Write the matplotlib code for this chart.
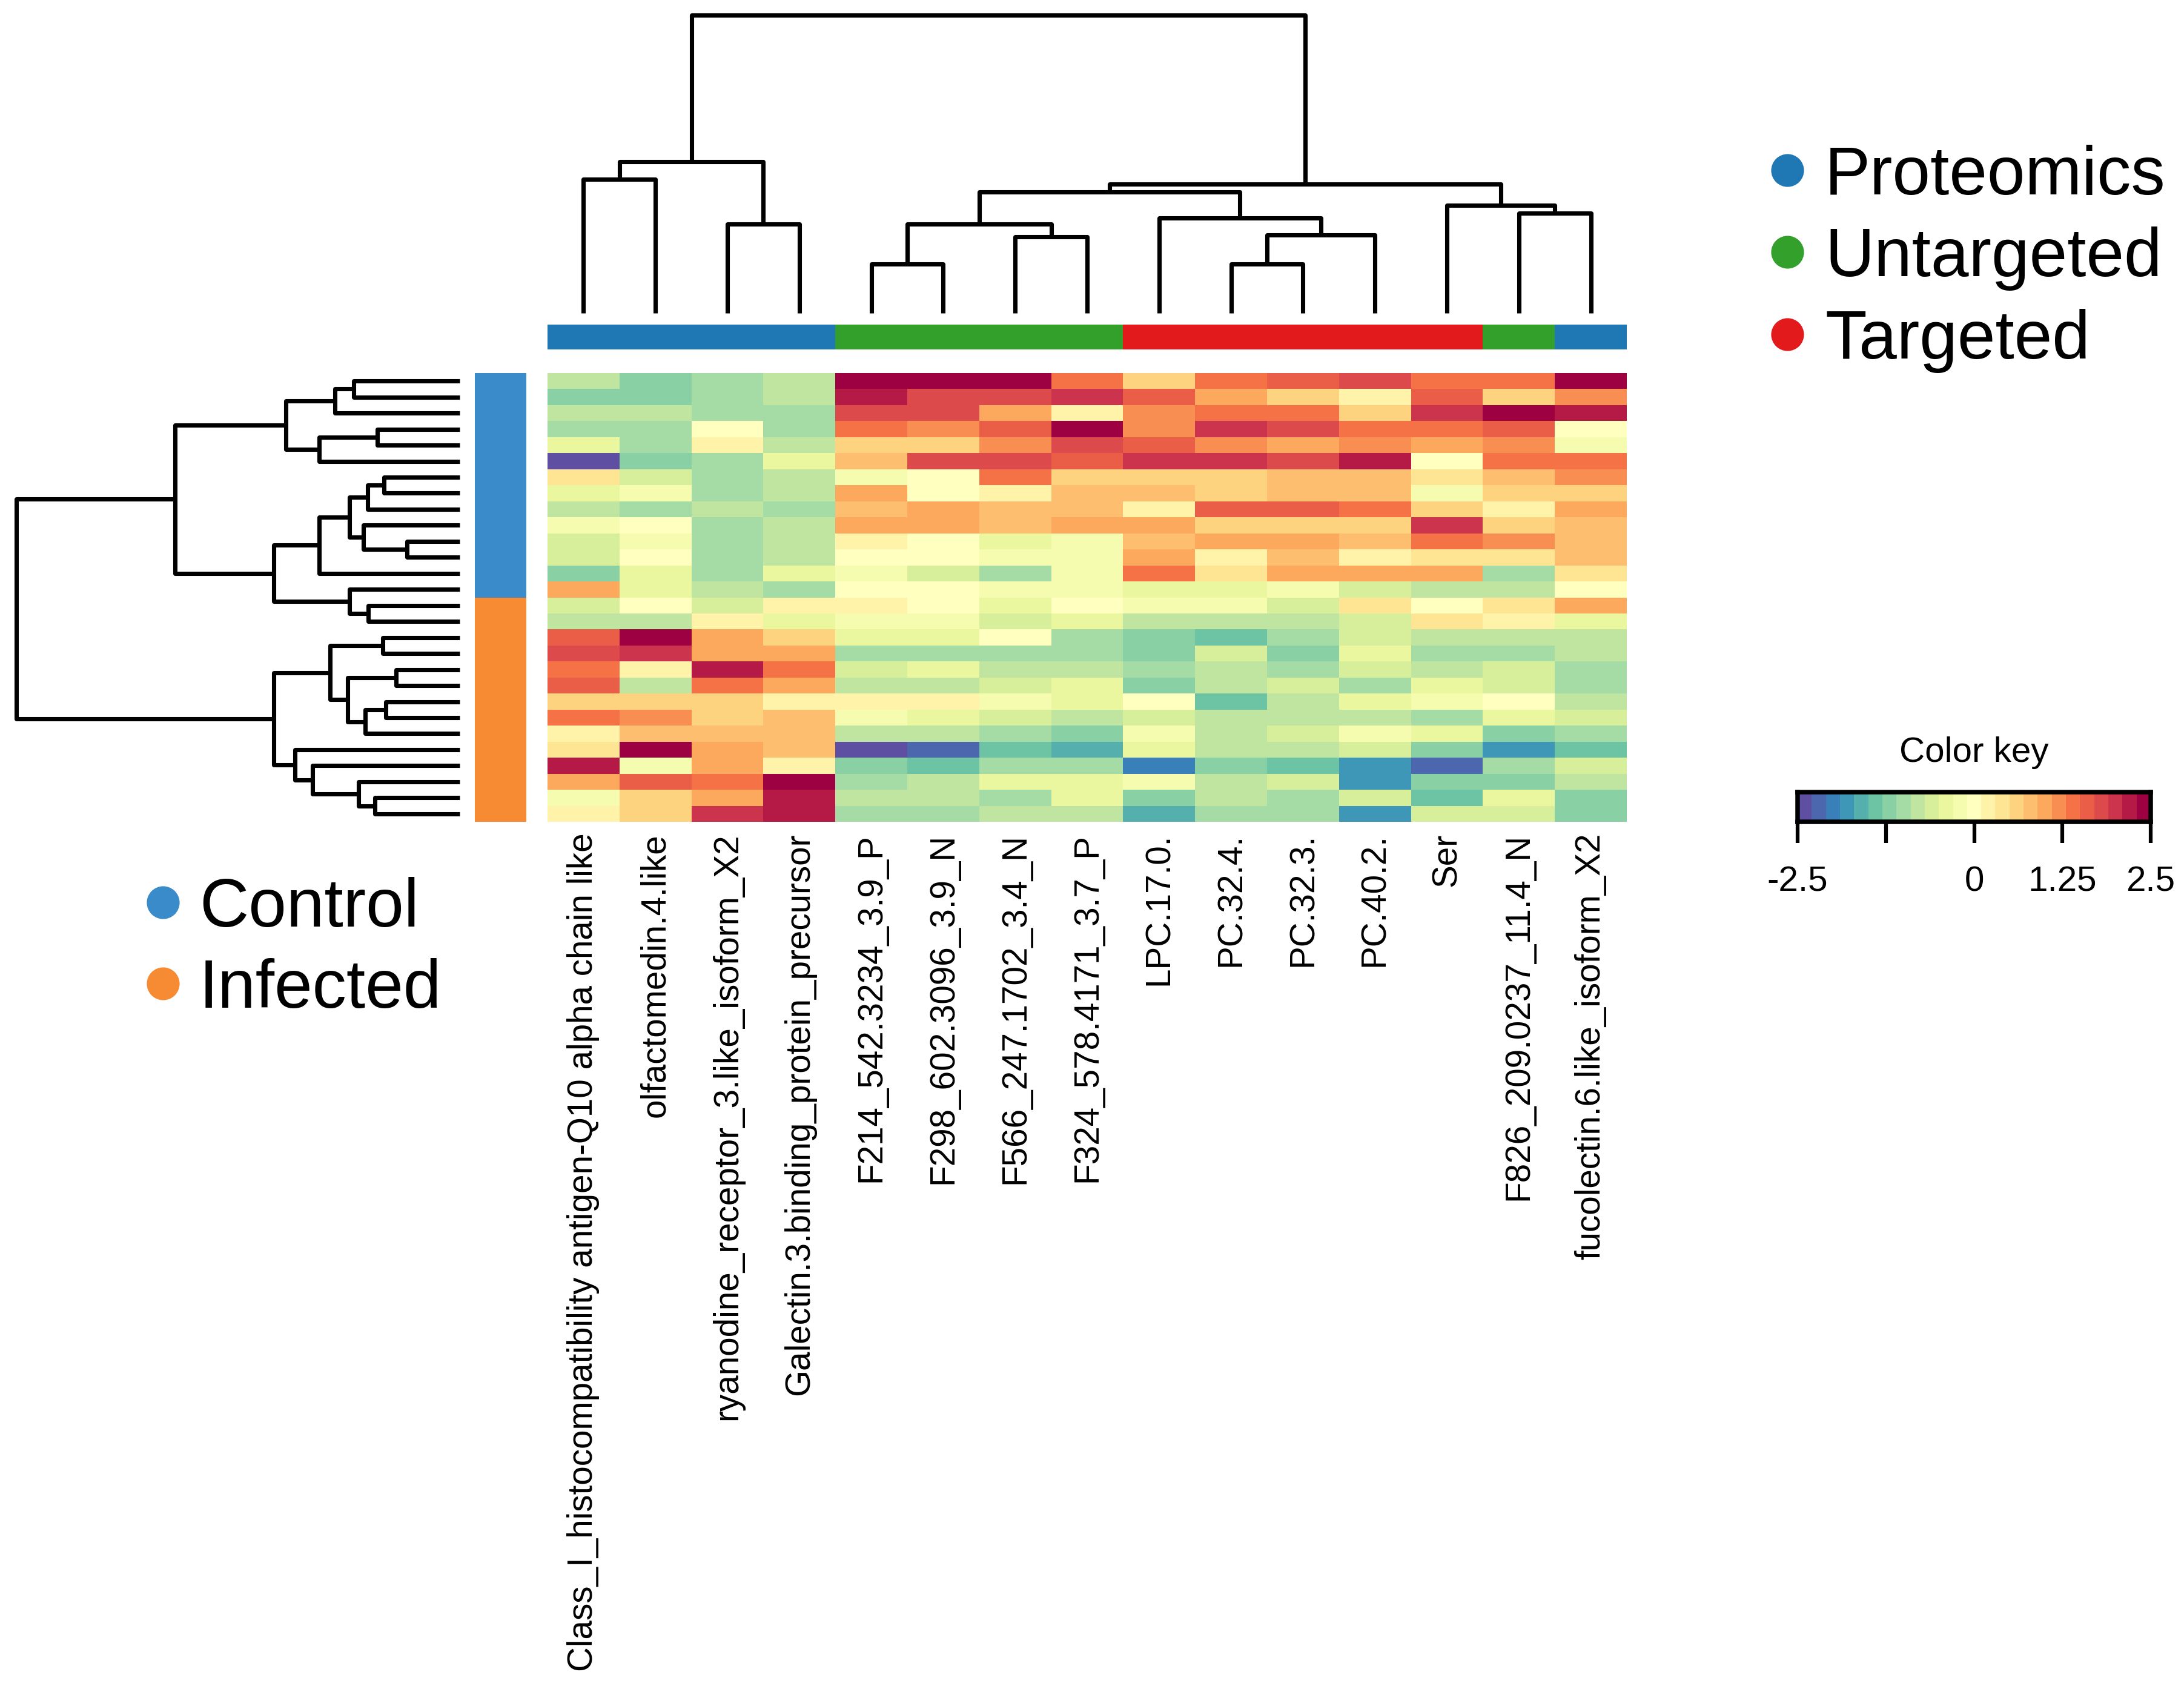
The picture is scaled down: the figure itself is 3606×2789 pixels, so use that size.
import matplotlib
matplotlib.use("Agg")
import matplotlib.pyplot as plt
import numpy as np

plt.rcParams['font.family'] = ['Liberation Sans', 'DejaVu Sans']

# column (feature) names in display order
features = ["Class_I_histocompatibility antigen-Q10 alpha chain like",
            "olfactomedin.4.like",
            "ryanodine_receptor_3.like_isoform_X2",
            "Galectin.3.binding_protein_precursor",
            "F214_542.3234_3.9_P",
            "F298_602.3096_3.9_N",
            "F566_247.1702_3.4_N",
            "F324_578.4171_3.7_P",
            "LPC.17.0.",
            "PC.32.4.",
            "PC.32.3.",
            "PC.40.2.",
            "Ser",
            "F826_209.0237_11.4_N",
            "fucolectin.6.like_isoform_X2"]
feature_type = ["Proteomics"] * 4 + ["Untargeted"] * 4 + ["Targeted"] * 5 + ["Untargeted", "Proteomics"]
sample_group = ["Control"] * 14 + ["Infected"] * 14

# scaled values, rows in display order (top to bottom)
z_control = [
    [-0.8, -1.2, -1.0, -0.85, 2.5, 2.3, 2.5, 1.3, 0.6, 1.3, 1.5, 1.7, 1.3, 1.3, 2.3],
    [-1.2, -1.2, -1.0, -0.85, 2.1, 1.7, 1.7, 1.95, 1.5, 0.9, 0.6, 0.1, 1.5, 0.6, 1.1],
    [-0.85, -0.85, -1.0, -1.0, 1.7, 1.7, 0.9, 0.1, 1.1, 1.3, 1.3, 0.6, 1.95, 2.5, 2.1],
    [-1.0, -1.0, 0.0, -1.0, 1.3, 1.1, 1.5, 2.3, 1.1, 1.95, 1.7, 1.3, 1.3, 1.5, 0.0],
    [-0.5, -1.0, 0.3, -0.85, 0.5, 0.5, 1.1, 1.7, 1.5, 1.1, 0.9, 1.1, 0.9, 1.1, -0.25],
    [-2.4, -1.2, -1.0, -0.5, 0.7, 1.7, 1.7, 1.5, 1.95, 1.95, 1.7, 2.1, 0.05, 1.3, 1.3],
    [0.45, -0.65, -1.0, -0.85, -0.25, 0.0, 1.3, 0.55, 0.5, 0.6, 0.85, 0.7, 0.45, 0.7, 1.1],
    [-0.45, -0.25, -1.0, -0.85, 0.9, 0.0, 0.3, 0.7, 0.7, 0.5, 0.7, 0.7, -0.25, 0.65, 0.55],
    [-0.8, -1.0, -0.85, -1.0, 0.7, 1.05, 0.7, 0.7, 0.3, 1.5, 1.5, 1.3, 0.5, 0.3, 0.9],
    [-0.25, 0.0, -1.0, -0.85, 0.9, 0.9, 0.7, 1.05, 1.05, 0.5, 0.5, 0.5, 1.95, 0.5, 0.7],
    [-0.65, -0.25, -1.0, -0.85, 0.3, 0.0, -0.45, -0.25, 0.7, 1.05, 0.9, 0.7, 1.3, 1.1, 0.7],
    [-0.65, -0.1, -1.0, -0.85, 0.0, 0.0, -0.2, -0.25, 0.9, 0.25, 0.7, 0.25, 0.45, 0.45, 0.7],
    [-1.2, -0.45, -1.0, -0.45, -0.2, -0.65, -1.0, -0.25, 1.3, 0.45, 0.9, 0.9, 0.9, -1.0, 0.45],
    [0.9, -0.45, -0.85, -1.0, 0.0, -0.1, -0.25, -0.25, -0.45, -0.45, -0.3, -0.65, -0.85, -0.85, 0.05],
]
z_infected = [
    [-0.65, 0.0, -0.65, 0.3, 0.3, 0.05, -0.45, 0.05, -0.3, -0.3, -0.6, 0.45, 0.05, 0.45, 1.05],
    [-0.85, -0.85, 0.3, -0.45, -0.3, -0.3, -0.6, -0.45, -0.85, -0.85, -0.85, -0.6, 0.45, 0.3, -0.45],
    [1.5, 2.5, 1.05, 0.5, -0.45, -0.45, 0.0, -1.0, -1.2, -1.45, -1.0, -0.6, -0.85, -0.85, -0.85],
    [1.7, 1.95, 0.9, 0.9, -1.0, -1.0, -1.0, -1.0, -1.2, -0.6, -1.2, -0.45, -1.0, -1.0, -0.85],
    [1.3, 0.3, 2.1, 1.3, -0.65, -0.45, -0.85, -0.85, -1.0, -0.85, -1.0, -0.65, -0.85, -0.6, -1.05],
    [1.5, -0.8, 1.3, 0.9, -0.85, -0.85, -0.65, -0.45, -1.2, -0.85, -0.65, -1.0, -0.45, -0.6, -1.05],
    [0.6, 0.6, 0.6, 0.3, 0.3, 0.3, -0.25, -0.45, 0.0, -1.45, -0.85, -0.45, -0.25, 0.0, -0.85],
    [1.3, 1.1, 0.5, 0.7, -0.25, -0.45, -0.65, -0.85, -0.65, -0.85, -0.85, -0.85, -1.0, -0.45, -0.65],
    [0.3, 0.7, 0.7, 0.7, -0.85, -0.85, -1.0, -1.2, -0.3, -0.85, -0.65, -0.15, -0.45, -1.2, -1.0],
    [0.45, 2.3, 0.9, 0.7, -2.4, -2.1, -1.45, -1.65, -0.45, -0.85, -0.85, -0.65, -1.2, -1.85, -1.45],
    [2.1, -0.25, 0.9, 0.1, -1.2, -1.45, -1.0, -1.0, -1.95, -1.2, -1.45, -1.85, -2.1, -1.0, -0.65],
    [0.9, 1.5, 1.3, 2.3, -1.0, -0.85, -0.45, -0.45, -0.15, -0.85, -0.65, -1.85, -1.2, -1.2, -0.85],
    [-0.15, 0.6, 0.9, 2.1, -0.85, -0.85, -1.0, -0.45, -1.2, -0.85, -1.0, -0.65, -1.45, -0.45, -1.2],
    [0.3, 0.5, 1.95, 2.1, -1.0, -1.0, -0.8, -0.8, -1.65, -1.0, -1.0, -1.85, -0.65, -0.65, -1.2],
]

# dendrogram merges: (left child, right child, height); children >= n are earlier merges
row_merges = [(0, 1, 350), (28, 2, 412), (3, 4, 272), (30, 5, 465), (29, 31, 575),
              (6, 7, 250), (33, 8, 305), (10, 11, 175), (9, 35, 318), (34, 36, 365),
              (37, 12, 465), (14, 15, 303), (13, 39, 365), (38, 40, 615), (32, 41, 942),
              (16, 17, 255), (18, 19, 210), (20, 21, 245), (45, 22, 313), (44, 46, 370),
              (43, 47, 428), (26, 27, 280), (25, 49, 335), (24, 50, 487), (23, 51, 545),
              (48, 52, 615), (42, 53, 1467)]
col_merges = [(0, 1, 577), (2, 3, 385), (15, 16, 653), (4, 5, 212), (6, 7, 328),
              (18, 19, 385), (9, 10, 212), (21, 11, 338), (8, 22, 410), (20, 23, 522),
              (13, 14, 430), (12, 25, 465), (24, 26, 557), (17, 27, 1285)]

type_colors = {"Proteomics": "#1F78B4", "Untargeted": "#33A02C", "Targeted": "#E31A1C"}
group_colors = {"Control": "#398BCA", "Infected": "#F68B33"}

z = np.array(z_control + z_infected)
nrow, ncol = z.shape
cmap = plt.get_cmap("Spectral_r").resampled(25)

W, H = 3606, 2789
fig = plt.figure(figsize=(W / 300, H / 300), dpi=300)


def box(x0, y0, x1, y1):
    # pixel box -> figure fraction rect
    return [x0 / W, 1 - y1 / H, (x1 - x0) / W, (y1 - y0) / H]


def draw_dendro(ax, merges, n, side):
    pos = {i: i + 0.5 for i in range(n)}
    hgt = {i: 0.0 for i in range(n)}
    for k, (a, b, h) in enumerate(merges):
        pa, pb = pos[a], pos[b]
        xs = [pa, pa, pb, pb]
        ys = [hgt[a], h, h, hgt[b]]
        if side == "top":
            ax.plot(xs, ys, color="black", lw=1.7, clip_on=False, solid_capstyle="butt")
        else:
            ax.plot(ys, xs, color="black", lw=1.7, clip_on=False, solid_capstyle="butt")
        pos[n + k] = (pa + pb) / 2
        hgt[n + k] = h
    ax.axis("off")


# heatmap
ax_h = fig.add_axes(box(904, 616, 2686, 1357))
ax_h.pcolormesh(z, cmap=cmap, vmin=-2.5, vmax=2.5)
ax_h.set_xlim(0, ncol)
ax_h.set_ylim(nrow, 0)
ax_h.set_yticks([])
ax_h.set_xticks(np.arange(ncol) + 0.5)
ax_h.set_xticklabels(features, rotation=90, fontsize=13.6, va="top", ha="center")
ax_h.tick_params(axis="x", length=0, pad=4.5)
for s in ax_h.spines.values():
    s.set_visible(False)

# column colour bar
ax_cb = fig.add_axes(box(904, 536, 2686, 577))
for j, t in enumerate(feature_type):
    ax_cb.bar(j + 0.5, 1, width=1, color=type_colors[t], linewidth=0)
ax_cb.set_xlim(0, ncol)
ax_cb.set_ylim(0, 1)
ax_cb.axis("off")

# row colour bar
ax_rb = fig.add_axes(box(784, 616, 869, 1357))
for i, g in enumerate(sample_group):
    ax_rb.barh(i + 0.5, 1, height=1, color=group_colors[g], linewidth=0)
ax_rb.set_ylim(nrow, 0)
ax_rb.set_xlim(0, 1)
ax_rb.axis("off")

# column dendrogram
ax_cd = fig.add_axes(box(904, 25, 2686, 517))
draw_dendro(ax_cd, col_merges, ncol, "top")
ax_cd.set_xlim(0, ncol)
ax_cd.set_ylim(0, col_merges[-1][2])

# row dendrogram
ax_rd = fig.add_axes(box(27, 616, 759, 1357))
draw_dendro(ax_rd, row_merges, nrow, "left")
ax_rd.set_xlim(row_merges[-1][2], 0)
ax_rd.set_ylim(nrow, 0)

# colour key
ax_k = fig.add_axes(box(2968, 1308, 3551, 1357))
edges = np.linspace(-2.5, 2.5, 26)
ax_k.pcolormesh(edges, [0, 1], ((edges[:-1] + edges[1:]) / 2)[None, :], cmap=cmap, vmin=-2.5, vmax=2.5)
ax_k.set_xlim(-2.5, 2.5)
ax_k.set_ylim(0, 1)
ax_k.set_yticks([])
ax_k.set_xticks([-2.5, -1.25, 0, 1.25, 2.5])
ax_k.set_xticklabels(["-2.5", "", "0", "1.25", "2.5"], fontsize=14)
ax_k.tick_params(axis="x", length=8.5, width=1.5, pad=9)
for s in ax_k.spines.values():
    s.set_linewidth(1.8)
ax_k.set_title("Color key", fontsize=14, pad=12)

# legends drawn on a full-figure overlay in pixel units
ax_o = fig.add_axes([0, 0, 1, 1])
ax_o.set_xlim(0, W)
ax_o.set_ylim(H, 0)
ax_o.axis("off")
cap = 0.716 * 27 * 300 / 72 / 2
for name, yy in zip(["Proteomics", "Untargeted", "Targeted"], [281, 416, 552]):
    ax_o.plot(2951, yy, "o", ms=13, color=type_colors[name], mec="none")
    ax_o.text(3013, yy + cap, name, fontsize=27, va="baseline", ha="left")
for name, yy in zip(["Control", "Infected"], [1490, 1624]):
    ax_o.plot(269, yy, "o", ms=13, color=group_colors[name], mec="none")
    ax_o.text(329, yy + cap, name, fontsize=27, va="baseline", ha="left")

fig.savefig("out.png", dpi=300, facecolor="white")
